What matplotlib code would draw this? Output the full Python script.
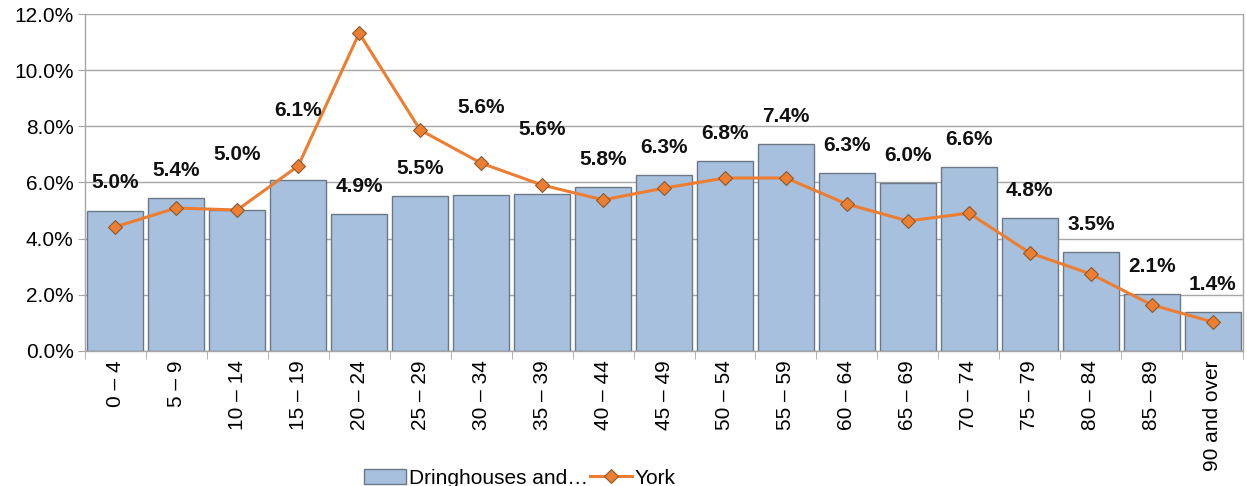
import matplotlib
matplotlib.use("Agg")
import matplotlib.pyplot as plt
from matplotlib.ticker import FuncFormatter, FixedLocator
import numpy as np

plt.rcParams['font.family'] = ['Liberation Sans', 'DejaVu Sans']

categories = ["0 \u2013 4", "5 \u2013 9", "10 \u2013 14", "15 \u2013 19", "20 \u2013 24", "25 \u2013 29",
              "30 \u2013 34", "35 \u2013 39", "40 \u2013 44", "45 \u2013 49", "50 \u2013 54", "55 \u2013 59",
              "60 \u2013 64", "65 \u2013 69", "70 \u2013 74", "75 \u2013 79", "80 \u2013 84", "85 \u2013 89",
              "90 and over"]
dringhouses = [5.0, 5.45, 5.02, 6.09, 4.88, 5.52, 5.56, 5.59, 5.84, 6.27, 6.77, 7.37,
               6.34, 5.98, 6.55, 4.74, 3.53, 2.03, 1.39]
york = [4.42, 5.09, 5.02, 6.59, 11.32, 7.87, 6.69, 5.91, 5.38, 5.80, 6.16, 6.16,
        5.23, 4.63, 4.91, 3.49, 2.74, 1.64, 1.03]
bar_labels = ["5.0%", "5.4%", "5.0%", "6.1%", "4.9%", "5.5%", "5.6%", "5.6%", "5.8%", "6.3%",
              "6.8%", "7.4%", "6.3%", "6.0%", "6.6%", "4.8%", "3.5%", "2.1%", "1.4%"]

fig = plt.figure(figsize=(12.47, 4.86), dpi=100)
ax = fig.add_axes([0.068, 0.278, 0.929, 0.693])

x = np.arange(len(categories))
bars = ax.bar(x, dringhouses, width=0.92, color="#A7C0DE", edgecolor="#6B7886", linewidth=1.0,
              label="Dringhouses and\u2026", zorder=2)
ax.plot(x, york, color="#ED7D31", linewidth=2.2, marker="D", markersize=7.5,
        markerfacecolor="#ED7D31", markeredgecolor="#8A5A30", markeredgewidth=0.8,
        label="York", zorder=3)

for i, (b, y, lab) in enumerate(zip(dringhouses, york, bar_labels)):
    if y >= b - 0.1 and y - b < 2:
        ax.annotate(lab, (x[i], y), xytext=(0, 40), textcoords="offset points",
                    ha="center", va="center", fontsize=15, fontweight="bold", color="#111111")
    else:
        ax.annotate(lab, (x[i], b), xytext=(0, 20), textcoords="offset points",
                    ha="center", va="center", fontsize=15, fontweight="bold", color="#111111")

ax.set_xlim(-0.5, len(categories) - 0.5)
ax.set_ylim(0, 12)
ax.set_yticks(np.arange(0, 12.1, 2))
ax.yaxis.set_major_formatter(FuncFormatter(lambda v, p: f"{v:.1f}%"))
ax.grid(axis="y", color="#A6A6A6", linewidth=1.0, zorder=0)
ax.set_axisbelow(True)

ax.set_xticks(x)
ax.set_xticklabels(categories, rotation=90, fontsize=15)
ax.tick_params(axis="x", which="major", length=0, pad=7)
ax.xaxis.set_minor_locator(FixedLocator(np.arange(-0.5, len(categories), 1)))
ax.tick_params(axis="x", which="minor", length=6, color="#A6A6A6")
ax.tick_params(axis="y", labelsize=15, length=5, color="#A6A6A6", pad=3)

ax.spines["top"].set_visible(False)
for s in ["left", "bottom", "right"]:
    ax.spines[s].set_color("#A6A6A6")
    ax.spines[s].set_linewidth(1.0)

h, l = ax.get_legend_handles_labels()
order = [l.index("Dringhouses and\u2026"), l.index("York")]
fig.legend([h[i] for i in order], [l[i] for i in order], loc="lower center",
           bbox_to_anchor=(0.417, -0.042), ncol=2, frameon=False,
           fontsize=15, handlelength=2.0, columnspacing=0.1, handletextpad=0.15)

fig.savefig("out.png", dpi=100)
